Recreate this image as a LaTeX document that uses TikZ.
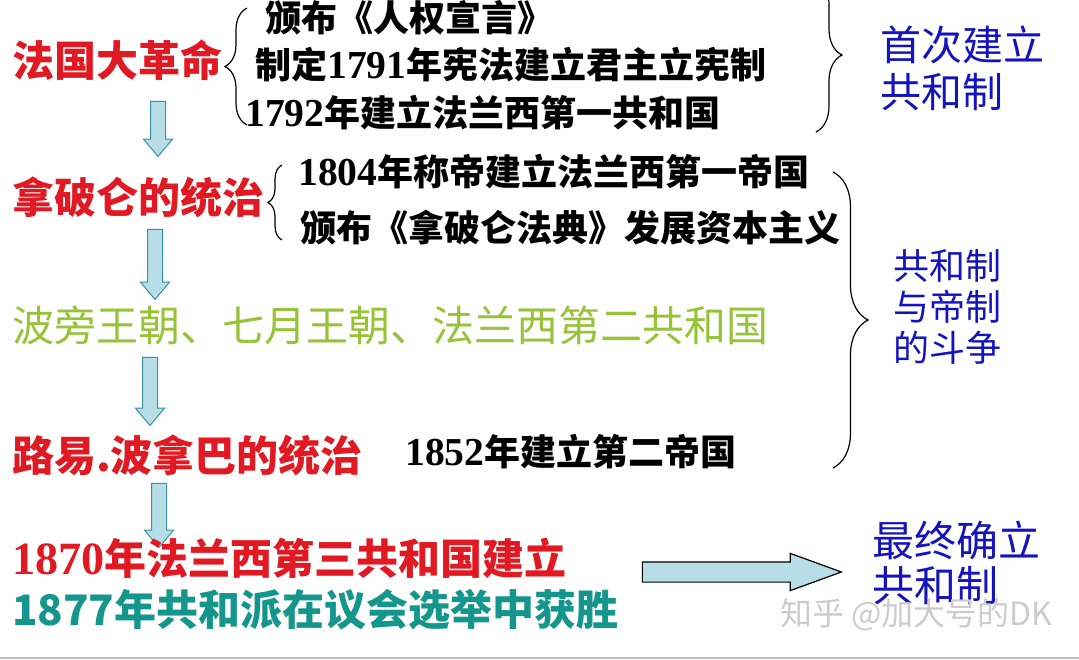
\documentclass[tikz,border=0pt]{standalone}
\usepackage{fontspec}
\setmainfont{Liberation Serif}
\newfontfamily\cjk{Noto Sans CJK SC}
\newfontfamily\yrfont{Liberation Serif}[Scale=1.1]
\usepackage{tikz}
\usetikzlibrary{positioning,shapes.arrows,decorations.pathreplacing}
\definecolor{revred}{RGB}{225,25,35}
\definecolor{bourgreen}{RGB}{150,195,55}
\definecolor{noteblue}{RGB}{20,20,190}
\definecolor{winteal}{RGB}{20,150,140}
\definecolor{arrowfill}{RGB}{183,222,230}
\definecolor{arrowline}{RGB}{60,145,160}
\tikzstyle{title} = [anchor=west,inner sep=0pt,text=revred,font=\cjk\bfseries\fontsize{42}{49}\selectfont]
\tikzstyle{event} = [anchor=west,inner sep=0pt,font=\cjk\bfseries\fontsize{36}{42}\selectfont]
\tikzstyle{note} = [anchor=west,inner sep=0pt,align=left,text=noteblue]
\tikzstyle{down} = [single arrow,shape border rotate=270,draw=arrowline,fill=arrowfill,line width=1pt,inner sep=7pt,single arrow head extend=7pt,single arrow tip angle=80]
\tikzstyle{brace} = [draw,line width=1.2pt,decorate]
\newcommand{\yr}[1]{{\yrfont\bfseries #1}}

\begin{document}
\begin{tikzpicture}[x=1pt,y=-1pt]
\useasboundingbox (0,0) rectangle (1079,660);
% French Revolution
\node[title] (rev) at (12,60) {法国大革命};
\node[event] (rev1) at (265,18) {颁布《人权宣言》};
\node[event] (rev2) at (255,65) {制定\yr{1791}年宪法建立君主立宪制};
\node[event] (rev3) at (245,113) {\yr{1792}年建立法兰西第一共和国};
\coordinate (b1top) at (247,8);
\coordinate (b1bot) at (247,125);
\draw[brace,decoration={brace,amplitude=22pt}] (b1bot) -- (b1top);
\coordinate (b2top) at (816,-22);
\coordinate (b2bot) at (816,132);
\draw[brace,decoration={brace,amplitude=26pt}] (b2top) -- (b2bot);
\node[note,font=\cjk\fontsize{41}{47}\selectfont] (first) at (880,68) {首次建立\\共和制};
\node[down,minimum height=55pt] (arr1) at (158,124.5) {};
% Napoleon
\node[title] (nap) at (12,197) {拿破仑的统治};
\node[event] (nap1) at (298,172) {\yr{1804}年称帝建立法兰西第一帝国};
\node[event] (nap2) at (300,228) {颁布《拿破仑法典》发展资本主义};
\coordinate (b3top) at (282,165);
\coordinate (b3bot) at (282,240);
\draw[brace,decoration={brace,amplitude=14pt}] (b3bot) -- (b3top);
\node[down,minimum height=70pt] (arr2) at (155,260) {};
% monarchies
\node[anchor=west,inner sep=0pt,text=bourgreen,font=\cjk\fontsize{42}{50}\selectfont] (bour) at (12,325) {波旁王朝、七月王朝、法兰西第二共和国};
\node[down,minimum height=68pt] (arr3) at (150,387) {};
% Louis Bonaparte
\node[title] (louis) at (12,455) {路易.波拿巴的统治};
\node[event] (louis1) at (405,452) {\yr{1852}年建立第二帝国};
\coordinate (b4top) at (833,172);
\coordinate (b4bot) at (833,468);
\draw[brace,decoration={brace,amplitude=35pt}] (b4top) -- (b4bot);
\node[note,font=\cjk\fontsize{36}{41}\selectfont] (fight) at (893,307) {共和制\\与帝制\\的斗争};
\node[down,minimum height=64pt] (arr4) at (159,511) {};
% Third Republic
\node[title] (third) at (12,558) {\yr{1870}年法兰西第三共和国建立};
\node[anchor=west,inner sep=0pt,text=winteal,font=\cjk\bfseries\fontsize{42}{50}\selectfont] (win) at (12,610) {1877年共和派在议会选举中获胜};
\node[single arrow,draw=black,fill=arrowfill,line width=1.2pt,inner sep=9.5pt,single arrow head extend=8.5pt,single arrow tip angle=40,minimum height=199pt] (arr5) at (728,572) {};
\node[note,font=\cjk\fontsize{42}{45}\selectfont] (final) at (872,563) {最终确立\\共和制};
\node[anchor=west,inner sep=0pt,text=gray!40,font=\cjk\fontsize{32}{36}\selectfont] (mark) at (780,615) {知乎 @加大号的DK};
\draw[gray!50,line width=2pt] (0,658) -- (1079,658);
\end{tikzpicture}
\end{document}
